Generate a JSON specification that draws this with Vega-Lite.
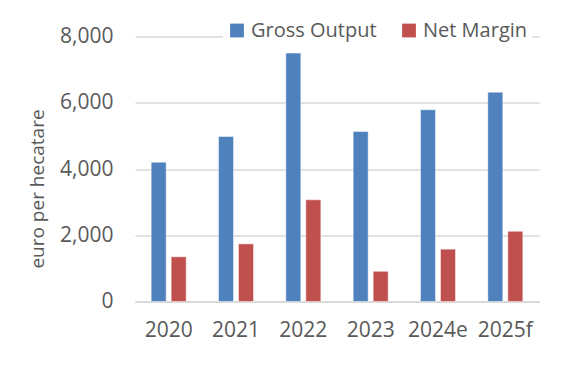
{
  "$schema": "https://vega.github.io/schema/vega-lite/v6.json",
  "width": 404,
  "height": 265,
  "autosize": {"type": "none"},
  "padding": {"left": 135, "top": 36.5, "right": 22, "bottom": 65.5},
  "background": "white",
  "data": {
    "values": [
      {"year": "2020", "series": "Gross Output", "value": 4205},
      {"year": "2020", "series": "Net Margin", "value": 1350},
      {"year": "2021", "series": "Gross Output", "value": 4980},
      {"year": "2021", "series": "Net Margin", "value": 1740},
      {"year": "2022", "series": "Gross Output", "value": 7500},
      {"year": "2022", "series": "Net Margin", "value": 3070},
      {"year": "2023", "series": "Gross Output", "value": 5130},
      {"year": "2023", "series": "Net Margin", "value": 910},
      {"year": "2024e", "series": "Gross Output", "value": 5790},
      {"year": "2024e", "series": "Net Margin", "value": 1580},
      {"year": "2025f", "series": "Gross Output", "value": 6320},
      {"year": "2025f", "series": "Net Margin", "value": 2120}
    ]
  },
  "mark": {"type": "bar", "stroke": "white", "strokeWidth": 0.8, "strokeOpacity": 0.6},
  "encoding": {
    "x": {
      "field": "year", "type": "nominal", "sort": null,
      "scale": {"paddingInner": 0.48, "paddingOuter": 0.24},
      "axis": {
        "title": null, "labelAngle": 0, "ticks": false,
        "domainColor": "#d9d9d9", "domainWidth": 2,
        "labelFont": "Open Sans", "labelFontSize": 21, "labelColor": "#595959",
        "labelPadding": 18
      }
    },
    "xOffset": {"field": "series", "type": "nominal", "scale": {"paddingInner": 0.25}},
    "y": {
      "field": "value", "type": "quantitative",
      "scale": {"domain": [0, 8000]},
      "axis": {
        "values": [0, 2000, 4000, 6000, 8000],
        "format": ",d",
        "title": "euro per hecatare",
        "titleFont": "Open Sans", "titleFontSize": 19, "titleFontWeight": "normal", "titleColor": "#595959",
        "titleX": -98, "titleY": 152, "titleAngle": -90, "titleAlign": "center", "titleBaseline": "middle",
        "labelFont": "Open Sans", "labelFontSize": 21, "labelColor": "#595959",
        "labelPadding": 22, "ticks": false, "domain": false,
        "gridColor": "#d9d9d9", "gridWidth": 1.5
      }
    },
    "color": {
      "field": "series", "type": "nominal",
      "scale": {"domain": ["Gross Output", "Net Margin"], "range": ["#4f81bd", "#c0504d"]},
      "legend": {
        "title": null, "orient": "none", "direction": "horizontal",
        "legendX": 88, "legendY": -20,
        "fillColor": "white", "padding": 4,
        "symbolType": "square", "symbolSize": 190, "symbolStrokeWidth": 0,
        "labelFont": "Open Sans", "labelFontSize": 20, "labelColor": "#595959",
        "labelOffset": 4, "columnPadding": 22
      }
    }
  },
  "config": {"view": {"stroke": null}}
}
